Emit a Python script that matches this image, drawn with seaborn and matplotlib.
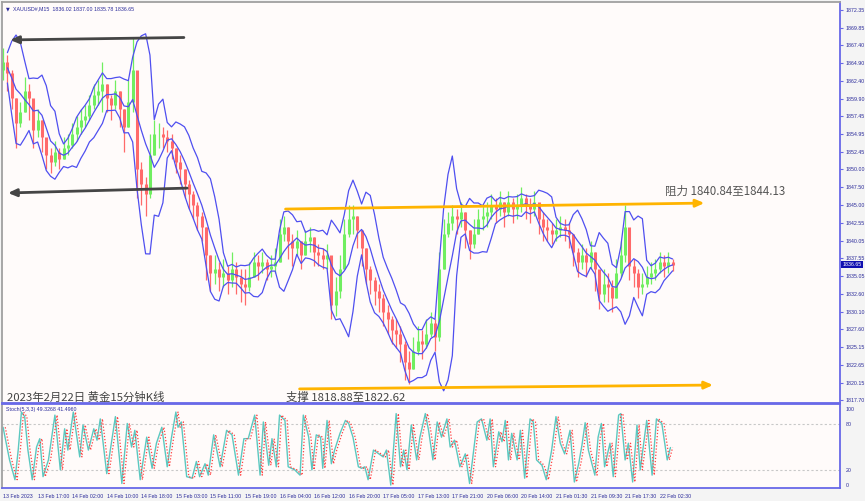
import numpy as np
import pandas as pd
import matplotlib
matplotlib.use("Agg")
import matplotlib.pyplot as plt
import matplotlib.transforms as mtransforms
import seaborn as sns

# Velas horarias (XAUUSD, 13-22 feb 2023), cada una = 4 velas M15
closes = [
    1865.0, 1863.5, 1860.0, 1856.5, 1858.0, 1861.0, 1860.0, 1855.5, 1857.0, 1854.5,
    1852.0, 1851.0, 1852.5, 1851.5, 1853.0, 1853.5, 1855.0, 1856.0, 1857.0, 1857.5,
    1859.0, 1860.5, 1861.0, 1862.0, 1860.0, 1859.0, 1861.0, 1858.5, 1856.0, 1859.5,
    1864.0, 1850.0, 1848.0, 1846.5, 1852.0, 1855.0, 1855.0, 1854.5, 1854.0, 1853.0,
    1851.0, 1850.0, 1848.0, 1846.5, 1845.0, 1843.5, 1842.0, 1838.0, 1835.5, 1836.0,
    1835.0, 1835.5, 1834.5, 1836.0, 1835.0, 1834.0, 1833.5, 1835.0, 1837.0, 1836.5,
    1837.0, 1836.0, 1836.5, 1837.0, 1841.0, 1842.0, 1840.0, 1839.0, 1840.0, 1838.0,
    1840.0, 1840.5, 1838.5, 1838.0, 1837.5, 1838.0, 1831.0, 1833.0, 1836.0, 1841.0,
    1843.0, 1843.5, 1841.5, 1839.0, 1836.0, 1834.5, 1833.0, 1832.0, 1830.0, 1829.0,
    1827.5, 1827.0, 1825.5, 1823.0, 1822.0, 1824.5, 1826.0, 1825.5, 1827.0, 1828.5,
    1826.5, 1836.0, 1841.0, 1842.5, 1843.5, 1843.0, 1844.0, 1841.5, 1839.5, 1841.0,
    1843.0, 1843.5, 1844.0, 1845.0, 1844.5, 1845.5, 1844.0, 1845.5, 1844.5, 1845.0,
    1846.0, 1845.0, 1844.5, 1845.5, 1843.0, 1842.0, 1841.5, 1841.0, 1841.5, 1842.0,
    1841.5, 1841.0, 1838.5, 1837.0, 1838.0, 1837.0, 1838.5, 1836.0, 1832.5, 1834.0,
    1833.5, 1832.0, 1835.5, 1838.0, 1842.0, 1836.5, 1835.5, 1833.5, 1834.0, 1835.0,
    1835.5, 1836.0, 1837.0, 1836.5, 1837.0, 1836.65,
]
highs = [
    1867.0, 1866.0, 1864.0, 1860.0, 1859.5, 1863.0, 1862.0, 1858.0, 1858.5, 1857.0,
    1854.0, 1853.0, 1854.0, 1853.0, 1854.5, 1855.0, 1856.5, 1857.5, 1858.5, 1859.0,
    1860.5, 1862.0, 1862.5, 1865.0, 1862.0, 1860.5, 1862.5, 1861.0, 1858.5, 1862.5,
    1868.5, 1860.0, 1851.0, 1849.0, 1855.0, 1857.0, 1856.5, 1856.0, 1855.5, 1855.0,
    1853.0, 1852.0, 1850.0, 1848.5, 1847.0, 1845.5, 1844.0, 1842.0, 1838.0, 1838.0,
    1837.0, 1837.5, 1836.5, 1838.5, 1837.0, 1836.0, 1836.0, 1837.0, 1838.5, 1838.0,
    1838.5, 1837.5, 1838.0, 1839.0, 1843.0, 1843.5, 1842.0, 1841.0, 1841.5, 1840.0,
    1841.5, 1842.0, 1840.5, 1839.5, 1839.0, 1839.5, 1837.0, 1835.0, 1838.0, 1843.0,
    1845.0, 1845.0, 1843.5, 1841.5, 1839.0, 1836.5, 1835.0, 1834.0, 1832.5, 1831.0,
    1829.5, 1829.0, 1828.0, 1826.0, 1824.5, 1826.5, 1828.0, 1827.5, 1829.0, 1830.0,
    1829.0, 1838.5, 1843.0, 1844.0, 1845.0, 1844.5, 1845.5, 1844.0, 1841.5, 1843.0,
    1844.5, 1845.0, 1845.5, 1846.5, 1846.0, 1847.0, 1845.5, 1847.0, 1846.0, 1846.5,
    1847.5, 1846.5, 1846.0, 1847.0, 1845.0, 1844.0, 1843.0, 1842.5, 1843.0, 1843.5,
    1843.0, 1842.5, 1841.0, 1839.0, 1839.5, 1839.0, 1840.0, 1838.5, 1835.0, 1836.0,
    1835.5, 1834.5, 1837.5, 1840.0, 1845.0, 1841.0, 1837.5, 1836.0, 1835.5, 1836.5,
    1837.0, 1837.5, 1838.5, 1838.0, 1838.5, 1837.5,
]
lows = [
    1862.5, 1861.0, 1858.5, 1853.0, 1856.0, 1858.0, 1857.0, 1853.0, 1854.5, 1852.5,
    1850.0, 1849.5, 1850.5, 1850.0, 1851.5, 1852.0, 1853.0, 1854.0, 1855.0, 1856.0,
    1857.0, 1858.5, 1859.0, 1858.0, 1858.0, 1857.0, 1858.5, 1856.0, 1852.5, 1856.0,
    1858.0, 1846.0, 1845.0, 1843.5, 1846.0, 1852.0, 1853.0, 1853.0, 1852.5, 1851.5,
    1849.5, 1848.0, 1846.0, 1844.5, 1843.0, 1841.5, 1840.0, 1834.5, 1833.0, 1834.0,
    1833.0, 1833.5, 1832.5, 1833.5, 1832.5, 1831.5, 1831.0, 1833.0, 1835.0, 1834.5,
    1835.5, 1834.5, 1835.0, 1835.5, 1837.0, 1840.0, 1837.5, 1836.5, 1838.0, 1836.0,
    1838.0, 1838.5, 1836.5, 1836.5, 1836.0, 1836.0, 1829.0, 1829.5, 1832.0, 1836.0,
    1840.5, 1841.0, 1839.0, 1836.5, 1834.0, 1832.5, 1831.0, 1830.0, 1828.0, 1827.0,
    1825.5, 1825.0, 1823.0, 1820.5, 1820.0, 1822.0, 1824.0, 1823.5, 1825.0, 1826.5,
    1824.5, 1826.0, 1836.0, 1840.5, 1841.5, 1841.0, 1842.0, 1839.0, 1837.5, 1839.0,
    1841.0, 1841.5, 1842.0, 1843.0, 1842.5, 1843.5, 1842.0, 1843.5, 1842.5, 1843.0,
    1844.0, 1843.0, 1842.5, 1843.5, 1841.0, 1840.0, 1840.0, 1839.5, 1840.0, 1840.5,
    1840.0, 1839.0, 1836.5, 1835.0, 1836.0, 1835.0, 1836.0, 1833.0, 1830.5, 1831.5,
    1831.5, 1830.0, 1832.0, 1835.0, 1837.0, 1834.5, 1833.5, 1832.0, 1832.5, 1833.5,
    1834.0, 1834.5, 1835.5, 1835.0, 1835.5, 1835.78,
]
first_open = 1864.0
bars_per_candle = 4

stoch_bar = [
    0, 6, 11, 14, 17, 20, 23, 27, 31, 34, 37, 42, 48, 53, 57, 60, 65, 71, 74, 79,
    84, 87, 90, 96, 104, 110, 115, 119, 122, 127, 133, 138, 142, 147, 152, 156, 160, 162, 165, 170,
    175, 179, 182, 187, 190, 195, 201, 207, 212, 218, 223, 227, 233, 238, 241, 246, 249, 253, 256, 261,
    264, 270, 275, 278, 283, 286, 290, 294, 296, 300, 304, 307, 312, 317, 320, 324, 329, 332, 335, 338,
    343, 348, 352, 355, 359, 364, 368, 371, 374, 378, 383, 386, 391, 394, 398, 402, 406, 411, 414, 418,
    423, 428, 432, 439, 443, 448, 451, 454, 459, 462, 465, 468, 471, 476, 479, 483, 488, 491, 494, 499,
    503, 508, 512, 516, 520, 525, 529, 533, 536, 539, 542, 548, 551, 554, 557, 562, 565, 570, 572, 576,
    579, 583, 587, 590, 596, 601, 605, 610, 615, 618,
]
stoch_k = [
    76, 33, 7, 46, 96, 90, 46, 7, 50, 61, 11, 33, 92, 20, 74, 46, 96, 37, 79, 46,
    74, 59, 87, 15, 90, 2, 81, 50, 72, 7, 63, 22, 55, 76, 24, 63, 96, 76, 83, 11,
    9, 31, 11, 28, 13, 66, 24, 72, 66, 13, 61, 61, 92, 13, 83, 26, 61, 24, 92, 85,
    24, 20, 13, 92, 63, 20, 66, 63, 22, 85, 28, 46, 68, 85, 81, 63, 24, 22, 24, 7,
    46, 41, 37, 46, 0, 94, 24, 46, 20, 79, 33, 63, 94, 72, 33, 83, 63, 87, 50, 59,
    24, 41, 2, 83, 87, 59, 87, 24, 70, 57, 85, 33, 68, 33, 72, 9, 87, 83, 33, 26,
    7, 46, 90, 55, 41, 72, 4, 28, 52, 82, 46, 13, 63, 81, 24, 55, 11, 92, 94, 33,
    55, 4, 79, 20, 85, 13, 87, 81, 33, 49.33,
]
d_lag_bars = 2

date_labels = ["13 Feb 2023", "13 Feb 17:00", "14 Feb 02:00", "14 Feb 10:00", "14 Feb 18:00",
               "15 Feb 03:00", "15 Feb 11:00", "15 Feb 19:00", "16 Feb 04:00", "16 Feb 12:00",
               "16 Feb 20:00", "17 Feb 05:00", "17 Feb 13:00", "17 Feb 21:00", "20 Feb 06:00",
               "20 Feb 14:00", "21 Feb 01:30", "21 Feb 09:30", "21 Feb 17:30", "22 Feb 02:30"]
bars_per_label = 32

price_ticks = [1872.35, 1869.85, 1867.40, 1864.90, 1862.40, 1859.90, 1857.45, 1854.95,
               1852.45, 1850.00, 1847.50, 1845.00, 1842.55, 1840.05, 1837.55, 1835.05,
               1832.60, 1830.10, 1827.60, 1825.15, 1822.65, 1820.15, 1817.70]
last_price = 1836.65

# líneas dibujadas a mano: (barra inicio, precio inicio, barra fin, precio fin)
black_arrow_top = (170, 1868.5, 4, 1868.15)
black_arrow_low = (173, 1847.4, 2, 1846.7)
resist_line = (259, 1844.45, 652, 1845.3)
support_line = (272, 1819.25, 660, 1819.8)

# ---------------- cálculos ----------------
close = pd.Series(closes)
opens = pd.Series([first_open] + closes[:-1])
bar = np.arange(len(closes)) * bars_per_candle

mid = close.rolling(5, min_periods=2).mean()
sd = close.rolling(5, min_periods=2).std(ddof=1)
df = pd.DataFrame({"bar": bar, "close": close, "mid": mid,
                   "upper": mid + 2 * sd, "lower": mid - 2 * sd})

st = pd.DataFrame({"bar": stoch_bar, "k": stoch_k})
st["bar_d"] = st["bar"] + d_lag_bars

# ---------------- figura ----------------
sns.set_style("white")
plt.rcParams["font.family"] = ["DejaVu Sans"]
small = "Liberation Sans"
fs = 3.8
bg = "#fffbfa"
axis_blue = "#6868e8"
label_blue = "#2a2a9a"
green, red = "#70ee60", "#ff6a6a"

fig = plt.figure(figsize=(8.65, 5.01), dpi=100)
fig.patch.set_facecolor("#f4f4f4")
W, H = 865, 501
ax = fig.add_axes([2 / W, 1 - 403 / H, 838 / W, 401 / H])
ax2 = fig.add_axes([2 / W, 1 - 488 / H, 838 / W, 84 / H], sharex=ax)
for a in (ax, ax2):
    a.set_facecolor(bg)
    for s in a.spines.values():
        s.set_color(axis_blue)
        s.set_linewidth(1.3)
ax.spines["left"].set_color("#a0a0a0")
ax.spines["top"].set_color("#a0a0a0")
ax2.spines["left"].set_color("#a0a0a0")

# velas (mecha fina + cuerpo)
up = close >= opens
cols = np.where(up, green, red)
ax.vlines(bar, lows, highs, colors=cols, linewidth=0.9, zorder=2)
ax.vlines(bar, np.minimum(opens, close), np.maximum(opens, close), colors=cols,
          linewidth=2.2, zorder=2)

# bandas de Bollinger
for col in ["upper", "mid", "lower"]:
    sns.lineplot(data=df, x="bar", y=col, ax=ax, color="#4f4ff0", linewidth=0.9, zorder=3)

# flechas
for (x0, y0, x1, y1) in [black_arrow_top, black_arrow_low]:
    ax.annotate("", xy=(x1, y1), xytext=(x0, y0),
                arrowprops=dict(arrowstyle="-|>,head_length=0.5,head_width=0.22",
                                color="#454545", lw=2.0), zorder=4)
for (x0, y0, x1, y1) in [resist_line, support_line]:
    ax.annotate("", xy=(x1, y1), xytext=(x0, y0),
                arrowprops=dict(arrowstyle="-|>,head_length=0.5,head_width=0.22",
                                color="#ffb400", lw=2.0), zorder=4)

cjk = ["Noto Sans CJK SC", "DejaVu Sans"]
ax.text(663 / 838, 1 - 189 / 401, "阻力 1840.84至1844.13", transform=ax.transAxes,
        fontsize=8.3, color="#555555", family=cjk, va="center", ha="left")
ax.text(5 / 838, 1 - 395 / 401, "2023年2月22日 黄金15分钟K线", transform=ax.transAxes,
        fontsize=8.2, color="#444444", family=cjk, va="center", ha="left")
ax.text(284 / 838, 1 - 395 / 401, "支撑 1818.88至1822.62", transform=ax.transAxes,
        fontsize=8.2, color="#444444", family=cjk, va="center", ha="left")
ax.text(4 / 838, 1 - 7 / 401, "\u25bc", transform=ax.transAxes, fontsize=3.5,
        color=label_blue, va="center", ha="left")
ax.text(11 / 838, 1 - 7 / 401, "XAUUSD#,M15  1836.02 1837.00 1835.78 1836.65",
        transform=ax.transAxes, fontsize=fs, family=small, color=label_blue,
        va="center", ha="left")

# ejes principales
ax.set_ylim(1817.28, 1873.47)
ax.set_xlim(-1, 775)
ax.yaxis.tick_right()
ax.set_yticks(price_ticks)
ax.set_yticklabels([f"{p:.2f}" for p in price_ticks], family=small)
ax.tick_params(axis="y", labelsize=fs, labelcolor=label_blue, color=axis_blue,
               length=2, width=0.8, pad=2)
ax.tick_params(axis="x", bottom=False, labelbottom=False)
ax.set_xlabel("")
ax.set_ylabel("")
trans = mtransforms.blended_transform_factory(ax.transAxes, ax.transData)
ax.text(1.003, last_price, f"{last_price:.2f}", transform=trans, fontsize=fs,
        family=small, color="white", va="center", ha="left",
        bbox=dict(boxstyle="square,pad=0.2", fc="#1010b0", ec="none"))

# estocástico
ax2.axhline(80, color="#c8c8c8", lw=0.8, ls=(0, (2, 2)))
ax2.axhline(20, color="#c8c8c8", lw=0.8, ls=(0, (2, 2)))
sns.lineplot(data=st, x="bar", y="k", ax=ax2, color="#5cc8c0", linewidth=1.0)
sns.lineplot(data=st, x="bar_d", y="k", ax=ax2, color="#ff4040", linewidth=0.9,
             linestyle=(0, (1, 1.5)))
ax2.set_ylim(-3.9, 106.6)
ax2.yaxis.tick_right()
ax2.set_yticks([100, 80, 20, 0])
ax2.set_yticklabels(["100", "80", "20", "0"], family=small)
ax2.tick_params(axis="y", labelsize=fs, labelcolor=label_blue, length=0, pad=4)
ax2.set_xticks([i * bars_per_label for i in range(len(date_labels))])
ax2.set_xticklabels(date_labels, ha="left", family=small)
ax2.tick_params(axis="x", labelsize=fs, labelcolor=label_blue, color=axis_blue,
                length=2.5, width=0.8, pad=1.5)
ax2.set_xlabel("")
ax2.set_ylabel("")
ax2.text(4 / 838, 1 - 6 / 84, "Stoch(5,3,3) 49.3268 41.4960", transform=ax2.transAxes,
         fontsize=fs, family=small, color=label_blue, va="center", ha="left")

fig.savefig("out.png", dpi=100, facecolor=fig.get_facecolor())
